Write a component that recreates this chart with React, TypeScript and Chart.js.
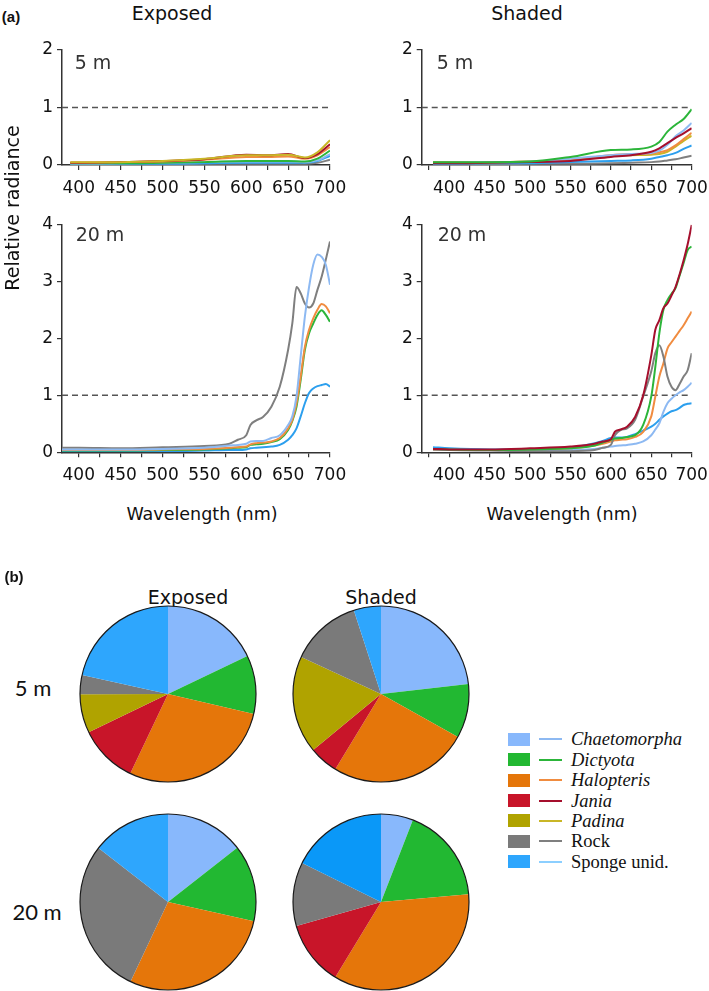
import React, { useEffect, useRef } from 'react';
import { Chart, registerables } from 'chart.js';
Chart.register(...registerables);

// ---------- categories ----------
const SPECIES = ['Chaetomorpha', 'Dictyota', 'Halopteris', 'Jania', 'Padina', 'Rock', 'Sponge unid.'];
const SPECIES_ITALIC = [true, true, true, true, true, false, false];
const PIE_COLORS = ['#88b8fc', '#22b832', '#e5760a', '#c81529', '#b0a300', '#7a7a7a', '#2ea6fd'];
const LINE_COLORS = ['#8db9f2', '#2cb53a', '#f08c40', '#a50f2d', '#c9b626', '#7f7f7f', '#2c9fee'];
const LEGEND_LINE_COLORS = ['#8db9f2', '#2cb53a', '#f08c40', '#a50f2d', '#c9b626', '#7f7f7f', '#8ccfff'];

// ---------- tick labels ----------
const X_TICK_LABELS = [400, 450, 500, 550, 600, 650, 700];
const X_TICKS_LEFT = [400, 425, 450, 475, 500, 525, 550, 575, 600, 625, 650, 675, 700];
const X_TICKS_RIGHT = [375, 400, 425, 450, 475, 500, 525, 550, 575, 600, 625, 650, 675, 700];
const Y_TICKS_5M = [0, 1, 2];
const Y_TICKS_20M = [0, 1, 2, 3, 4];

// ---------- (a) Exposed 5 m ----------
const WL_EXP_5 = [390, 400, 450, 500, 550, 600, 625, 650, 670, 685, 700];
const EXP5_CHAETO = [0.02, 0.02, 0.03, 0.04, 0.05, 0.06, 0.06, 0.06, 0.05, 0.08, 0.19];
const EXP5_DICTYOTA = [0.03, 0.03, 0.03, 0.04, 0.05, 0.07, 0.07, 0.07, 0.06, 0.11, 0.25];
const EXP5_HALOPTERIS = [0.04, 0.04, 0.05, 0.06, 0.09, 0.14, 0.14, 0.15, 0.11, 0.17, 0.31];
const EXP5_JANIA = [0.04, 0.04, 0.05, 0.07, 0.1, 0.18, 0.17, 0.19, 0.12, 0.19, 0.36];
const EXP5_PADINA = [0.05, 0.05, 0.05, 0.07, 0.11, 0.17, 0.17, 0.18, 0.13, 0.22, 0.43];
const EXP5_ROCK = [0.01, 0.01, 0.01, 0.01, 0.02, 0.02, 0.02, 0.02, 0.02, 0.04, 0.09];
const EXP5_SPONGE = [0.01, 0.01, 0.02, 0.02, 0.03, 0.04, 0.04, 0.04, 0.04, 0.07, 0.16];

// ---------- (a) Shaded 5 m ----------
const WL_SHA_5 = [380, 400, 450, 500, 550, 600, 625, 650, 660, 670, 680, 690, 700];
const SHA5_CHAETO = [0.04, 0.04, 0.05, 0.06, 0.11, 0.17, 0.19, 0.21, 0.25, 0.35, 0.5, 0.6, 0.73];
const SHA5_DICTYOTA = [0.05, 0.05, 0.05, 0.06, 0.14, 0.26, 0.27, 0.32, 0.4, 0.58, 0.7, 0.8, 0.97];
const SHA5_HALOPTERIS = [0.05, 0.05, 0.05, 0.06, 0.09, 0.17, 0.19, 0.2, 0.22, 0.26, 0.34, 0.45, 0.56];
const SHA5_JANIA = [0.03, 0.03, 0.04, 0.05, 0.07, 0.14, 0.17, 0.23, 0.29, 0.38, 0.47, 0.55, 0.64];
const SHA5_PADINA = [0.05, 0.05, 0.05, 0.06, 0.09, 0.16, 0.17, 0.18, 0.19, 0.23, 0.32, 0.42, 0.51];
const SHA5_ROCK = [0.01, 0.01, 0.01, 0.02, 0.02, 0.03, 0.04, 0.05, 0.06, 0.08, 0.1, 0.13, 0.16];
const SHA5_SPONGE = [0.02, 0.02, 0.03, 0.03, 0.05, 0.07, 0.08, 0.11, 0.14, 0.17, 0.21, 0.28, 0.34];

// ---------- (a) Exposed 20 m ----------
const WL_20 = [380, 400, 450, 500, 550, 580, 590, 600, 605, 612, 620, 630, 640, 650, 655, 660, 665, 670, 675, 680, 685, 690, 695, 700];
const EXP20_CHAETO = [0.05, 0.05, 0.05, 0.06, 0.08, 0.12, 0.13, 0.15, 0.19, 0.2, 0.2, 0.25, 0.3, 0.48, 0.63, 0.98, 1.68, 2.38, 2.9, 3.29, 3.47, 3.43, 3.29, 2.94];
const EXP20_DICTYOTA = [0.03, 0.03, 0.03, 0.04, 0.05, 0.07, 0.08, 0.09, 0.13, 0.14, 0.15, 0.18, 0.23, 0.39, 0.55, 0.8, 1.27, 1.8, 2.09, 2.26, 2.41, 2.49, 2.41, 2.29];
const EXP20_HALOPTERIS = [0.04, 0.04, 0.04, 0.05, 0.06, 0.08, 0.09, 0.1, 0.14, 0.16, 0.17, 0.19, 0.25, 0.42, 0.57, 0.86, 1.33, 1.85, 2.15, 2.35, 2.5, 2.6, 2.56, 2.44];
const EXP20_ROCK = [0.08, 0.08, 0.07, 0.09, 0.11, 0.15, 0.22, 0.3, 0.48, 0.56, 0.62, 0.8, 1.15, 1.8, 2.26, 2.9, 2.79, 2.61, 2.54, 2.61, 2.85, 3.08, 3.38, 3.7];
const EXP20_SPONGE = [0.02, 0.02, 0.02, 0.02, 0.03, 0.04, 0.04, 0.05, 0.07, 0.08, 0.09, 0.1, 0.13, 0.22, 0.3, 0.42, 0.63, 0.86, 1.04, 1.12, 1.16, 1.18, 1.2, 1.15];

// ---------- (a) Shaded 20 m ----------
const SHA20_CHAETO = [0.05, 0.05, 0.04, 0.04, 0.04, 0.06, 0.08, 0.1, 0.11, 0.12, 0.13, 0.15, 0.19, 0.3, 0.4, 0.51, 0.71, 0.86, 0.94, 1.0, 1.05, 1.09, 1.15, 1.22];
const SHA20_DICTYOTA = [0.06, 0.05, 0.04, 0.05, 0.07, 0.12, 0.17, 0.22, 0.24, 0.25, 0.27, 0.3, 0.48, 0.98, 1.5, 2.09, 2.5, 2.67, 2.78, 2.88, 3.1, 3.32, 3.55, 3.61];
const SHA20_HALOPTERIS = [0.05, 0.04, 0.04, 0.05, 0.07, 0.12, 0.15, 0.19, 0.21, 0.22, 0.23, 0.27, 0.36, 0.63, 0.98, 1.33, 1.56, 1.82, 1.93, 2.03, 2.13, 2.23, 2.35, 2.47];
const SHA20_JANIA = [0.06, 0.05, 0.05, 0.07, 0.1, 0.15, 0.19, 0.23, 0.36, 0.4, 0.45, 0.62, 1.0, 1.7, 2.15, 2.32, 2.53, 2.61, 2.75, 2.9, 3.12, 3.37, 3.65, 3.99];
const SHA20_ROCK = [0.05, 0.04, 0.03, 0.02, 0.02, 0.04, 0.08, 0.13, 0.3, 0.39, 0.42, 0.57, 0.98, 1.42, 1.74, 1.88, 1.68, 1.33, 1.15, 1.09, 1.2, 1.33, 1.44, 1.74];
const SHA20_SPONGE = [0.09, 0.07, 0.05, 0.05, 0.08, 0.16, 0.2, 0.25, 0.26, 0.26, 0.27, 0.32, 0.38, 0.45, 0.5, 0.57, 0.63, 0.68, 0.72, 0.74, 0.78, 0.83, 0.85, 0.86];

// ---------- (b) habitat composition (%) ----------
const PIE_EXP_5 = [17.9, 10.7, 28.4, 10.8, 7.1, 3.5, 21.5];
const PIE_SHA_5 = [23.2, 9.9, 25.6, 5.3, 17.9, 13.1, 5.0];
const PIE_EXP_20 = [14.4, 14.1, 28.5, 0, 0, 28.5, 14.5];
const PIE_SHA_20 = [5.9, 17.7, 35.1, 11.9, 0, 11.7, 17.7];

const TICK_FONT = { family: 'DejaVu Sans', size: 17 };
const AXIS_COLOR = '#333333';

type Series = { sp: number; values: number[] };

function LineChart(props: {
  left: number; top: number; width: number; height: number;
  plot: { l: number; t: number; r: number; b: number };
  xMin: number; xTicks: number[]; yTicks: number[]; wl: number[]; series: Series[];
}) {
  const ref = useRef<HTMLCanvasElement>(null);
  useEffect(() => {
    const { left, top, width, height, plot, xMin, xTicks, yTicks, wl, series } = props;
    const yMax = yTicks[yTicks.length - 1];
    const datasets: any[] = series.map((s) => ({
      label: SPECIES[s.sp],
      data: wl.map((x, i) => ({ x, y: s.values[i] })),
      borderColor: LINE_COLORS[s.sp],
      borderWidth: 2,
      pointRadius: 0,
      cubicInterpolationMode: 'monotone',
      fill: false,
    }));
    datasets.push({
      label: 'ref',
      data: [{ x: xMin, y: 1 }, { x: 700, y: 1 }],
      borderColor: '#555555',
      borderWidth: 1.5,
      borderDash: [6, 4],
      pointRadius: 0,
      fill: false,
    });
    const yAxisW = plot.l - left;
    const xAxisH = top + height - plot.b;
    const chart = new Chart(ref.current!, {
      type: 'line',
      data: { datasets },
      options: {
        animation: false,
        responsive: false,
        maintainAspectRatio: false,
        layout: { padding: { left: 0, top: plot.t - top, right: left + width - plot.r, bottom: 0 } },
        plugins: { legend: { display: false }, tooltip: { enabled: false } },
        scales: {
          x: {
            type: 'linear', min: xMin, max: 700,
            ticks: {
              autoSkip: false, maxRotation: 0, minRotation: 0, padding: 8,
              color: '#111', font: TICK_FONT,
              callback: (v: any) => (X_TICK_LABELS.includes(Number(v)) ? String(v) : ''),
            },
            afterBuildTicks: (s: any) => { s.ticks = xTicks.map((v) => ({ value: v })); },
            grid: { drawOnChartArea: false, drawTicks: true, tickLength: 5, color: AXIS_COLOR, lineWidth: 1.2 },
            border: { color: AXIS_COLOR, width: 1.5 },
            afterFit: (s: any) => { s.height = xAxisH; s.paddingLeft = 0; s.paddingRight = 0; },
          },
          y: {
            type: 'linear', min: 0, max: yMax,
            ticks: {
              padding: 4, color: '#111', font: TICK_FONT,
              callback: (v: any) => String(v),
            },
            afterBuildTicks: (s: any) => { s.ticks = yTicks.map((v) => ({ value: v })); },
            grid: { drawOnChartArea: false, drawTicks: true, tickLength: 5, color: AXIS_COLOR, lineWidth: 1.2 },
            border: { color: AXIS_COLOR, width: 1.5 },
            afterFit: (s: any) => { s.width = yAxisW; s.paddingTop = 0; s.paddingBottom = 0; },
          },
        },
      } as any,
    });
    return () => chart.destroy();
  }, []);
  return (
    <canvas ref={ref} width={props.width} height={props.height}
      style={{ position: 'absolute', left: props.left, top: props.top, width: props.width, height: props.height }} />
  );
}

const pieOutline = {
  id: 'pieOutline',
  afterDatasetsDraw(chart: any) {
    const meta = chart.getDatasetMeta(0);
    const arc = meta.data[0];
    if (!arc) return;
    const ctx = chart.ctx;
    ctx.save();
    ctx.beginPath();
    ctx.arc(arc.x, arc.y, arc.outerRadius, 0, Math.PI * 2);
    ctx.strokeStyle = '#1a1a1a';
    ctx.lineWidth = 1.2;
    ctx.stroke();
    ctx.restore();
  },
};

function PieChart(props: { cx: number; cy: number; r: number; values: number[]; colors: string[] }) {
  const ref = useRef<HTMLCanvasElement>(null);
  const size = props.r * 2 + 6;
  useEffect(() => {
    const chart = new Chart(ref.current!, {
      type: 'pie',
      data: {
        labels: SPECIES,
        datasets: [{ data: props.values, backgroundColor: props.colors, borderWidth: 0 }],
      },
      options: {
        animation: false,
        responsive: false,
        maintainAspectRatio: false,
        layout: { padding: 3 },
        plugins: { legend: { display: false }, tooltip: { enabled: false } },
      } as any,
      plugins: [pieOutline],
    });
    return () => chart.destroy();
  }, []);
  return (
    <canvas ref={ref} width={size} height={size}
      style={{ position: 'absolute', left: props.cx - size / 2, top: props.cy - size / 2, width: size, height: size }} />
  );
}

function Txt(props: { x: number; y: number; children: any; style?: any; rotate?: boolean }) {
  return (
    <div style={{
      position: 'absolute', left: props.x, top: props.y, whiteSpace: 'nowrap', lineHeight: 1,
      transform: `translate(-50%, -50%)${props.rotate ? ' rotate(-90deg)' : ''}`,
      fontFamily: 'DejaVu Sans', color: '#111', ...props.style,
    }}>{props.children}</div>
  );
}

export default function App() {
  const sans = { fontFamily: 'DejaVu Sans', fontSize: 19 };
  const xTitle = { fontFamily: 'DejaVu Sans', fontSize: 17.5 };
  const lbl = { fontFamily: 'DejaVu Sans', fontSize: 19, color: '#333' };
  const bold = { fontFamily: 'Liberation Sans', fontWeight: 'bold', fontSize: 15 };
  const rowLbl = { fontFamily: 'Lato', fontSize: 22 };
  const pie4Colors = PIE_COLORS.map((c, i) => (i === 6 ? '#0a98f8' : c));
  return (
    <div style={{ position: 'absolute', left: 0, top: 0, width: 709, height: 991, background: '#fff', overflow: 'hidden' }}>
      <LineChart left={0} top={35} width={352} height={160} plot={{ l: 62, t: 50, r: 330, b: 165 }}
        xMin={380} xTicks={X_TICKS_LEFT} yTicks={Y_TICKS_5M} wl={WL_EXP_5}
        series={[
          { sp: 4, values: EXP5_PADINA }, { sp: 3, values: EXP5_JANIA }, { sp: 2, values: EXP5_HALOPTERIS },
          { sp: 1, values: EXP5_DICTYOTA }, { sp: 0, values: EXP5_CHAETO }, { sp: 6, values: EXP5_SPONGE },
          { sp: 5, values: EXP5_ROCK },
        ]} />
      <LineChart left={360} top={35} width={349} height={160} plot={{ l: 421.7, t: 50, r: 691.7, b: 165 }}
        xMin={366} xTicks={X_TICKS_RIGHT} yTicks={Y_TICKS_5M} wl={WL_SHA_5}
        series={[
          { sp: 1, values: SHA5_DICTYOTA }, { sp: 3, values: SHA5_JANIA }, { sp: 0, values: SHA5_CHAETO },
          { sp: 2, values: SHA5_HALOPTERIS }, { sp: 4, values: SHA5_PADINA }, { sp: 6, values: SHA5_SPONGE },
          { sp: 5, values: SHA5_ROCK },
        ]} />
      <LineChart left={0} top={205} width={352} height={290} plot={{ l: 62, t: 224.3, r: 330, b: 452.3 }}
        xMin={380} xTicks={X_TICKS_LEFT} yTicks={Y_TICKS_20M} wl={WL_20}
        series={[
          { sp: 0, values: EXP20_CHAETO }, { sp: 5, values: EXP20_ROCK }, { sp: 2, values: EXP20_HALOPTERIS },
          { sp: 1, values: EXP20_DICTYOTA }, { sp: 6, values: EXP20_SPONGE },
        ]} />
      <LineChart left={360} top={205} width={349} height={290} plot={{ l: 421.7, t: 224.3, r: 691.7, b: 452.3 }}
        xMin={366} xTicks={X_TICKS_RIGHT} yTicks={Y_TICKS_20M} wl={WL_20}
        series={[
          { sp: 3, values: SHA20_JANIA }, { sp: 1, values: SHA20_DICTYOTA }, { sp: 5, values: SHA20_ROCK },
          { sp: 2, values: SHA20_HALOPTERIS }, { sp: 0, values: SHA20_CHAETO }, { sp: 6, values: SHA20_SPONGE },
        ]} />

      <Txt x={11} y={16} style={bold}>(a)</Txt>
      <Txt x={172} y={13} style={sans}>Exposed</Txt>
      <Txt x={527} y={13} style={sans}>Shaded</Txt>
      <Txt x={12} y={208} rotate style={sans}>Relative radiance</Txt>
      <Txt x={93} y={62} style={lbl}>5 m</Txt>
      <Txt x={455} y={62} style={lbl}>5 m</Txt>
      <Txt x={100} y={234} style={lbl}>20 m</Txt>
      <Txt x={462} y={234} style={lbl}>20 m</Txt>
      <Txt x={202} y={515} style={xTitle}>Wavelength (nm)</Txt>
      <Txt x={562} y={515} style={xTitle}>Wavelength (nm)</Txt>

      <Txt x={14} y={576} style={bold}>(b)</Txt>
      <Txt x={188} y={597} style={sans}>Exposed</Txt>
      <Txt x={381} y={597} style={sans}>Shaded</Txt>
      <Txt x={33} y={688} style={rowLbl}>5 m</Txt>
      <Txt x={37} y={912} style={rowLbl}>20 m</Txt>

      <PieChart cx={168.3} cy={694.3} r={88} values={PIE_EXP_5} colors={PIE_COLORS} />
      <PieChart cx={380.7} cy={694.3} r={88} values={PIE_SHA_5} colors={PIE_COLORS} />
      <PieChart cx={168} cy={901.7} r={88} values={PIE_EXP_20} colors={PIE_COLORS} />
      <PieChart cx={380.7} cy={901.7} r={88} values={PIE_SHA_20} colors={pie4Colors} />

      {SPECIES.map((name, i) => {
        const y = 739.3 + i * 20.4;
        return (
          <React.Fragment key={name}>
            <div style={{ position: 'absolute', left: 508, top: y - 6.5, width: 22, height: 13, background: PIE_COLORS[i] }} />
            <div style={{ position: 'absolute', left: 539, top: y - 1, width: 23, height: 2, background: LEGEND_LINE_COLORS[i] }} />
            <div style={{
              position: 'absolute', left: 571, top: y, transform: 'translateY(-50%)', lineHeight: 1,
              fontFamily: 'Liberation Serif', fontSize: 18.5, fontStyle: SPECIES_ITALIC[i] ? 'italic' : 'normal',
              color: '#111', whiteSpace: 'nowrap',
            }}>{name}</div>
          </React.Fragment>
        );
      })}
    </div>
  );
}
